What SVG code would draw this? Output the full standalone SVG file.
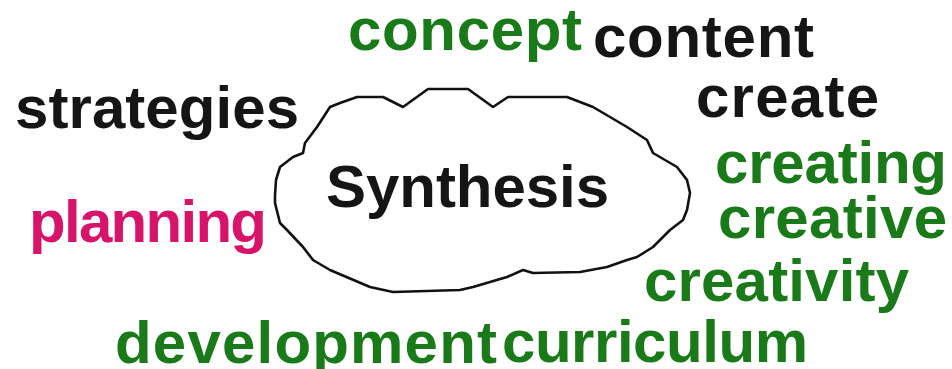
<svg xmlns="http://www.w3.org/2000/svg" width="952" height="369" viewBox="0 0 952 369">
<style>
text{font-family:"Liberation Sans",Arial,sans-serif;font-weight:bold;font-size:60px}
.g{fill:#1a7a1a}
.k{fill:#151515}
.p{fill:#d6146a}
.cloud{fill:#fff;stroke:#111;stroke-width:2.6;stroke-linejoin:round}
</style>
<rect width="952" height="369" fill="#fff"/>
<g id="cloud-synthesis">
<path class="cloud" d="M275,195 L276,180 L280,167 L293,157 L303,153 L305,143 L317,127 L330,107 L340,103 L357,97 L383,97 L403,107 L428,89 L468,89 L493,107 L508,97 L567,97 L593,107 L610,117 L627,127 L647,140 L653,153 L677,167 L687,180 L690,193 L687,210 L683,220 L670,230 L653,247 L637,257 L627,260 L607,267 L580,272 L533,273 L523,270 L507,277 L473,287 L460,290 L393,292 L370,287 L330,270 L313,260 L303,247 L287,230 L280,223 L275,203 Z"/>
<text class="k" x="326" y="207" font-size="59" textLength="283" lengthAdjust="spacing">Synthesis</text>
</g>
<g id="word-concept"><text class="g" x="348" y="50" textLength="234" lengthAdjust="spacing">concept</text></g>
<g id="word-content"><text class="k" x="593" y="57" textLength="221" lengthAdjust="spacing">content</text></g>
<g id="word-strategies"><text class="k" x="15" y="128" textLength="284" lengthAdjust="spacing">strategies</text></g>
<g id="word-create"><text class="k" x="696" y="117" textLength="183" lengthAdjust="spacing">create</text></g>
<g id="word-creating"><text class="g" x="715" y="183" textLength="232" lengthAdjust="spacing">creating</text></g>
<g id="word-creative"><text class="g" x="718" y="238" textLength="229" lengthAdjust="spacing">creative</text></g>
<g id="word-planning"><text class="p" x="29" y="242" textLength="238" lengthAdjust="spacing">planning</text></g>
<g id="word-creativity"><text class="g" x="644" y="301" textLength="265" lengthAdjust="spacing">creativity</text></g>
<g id="word-development"><text class="g" x="115" y="363" textLength="382" lengthAdjust="spacing">development</text></g>
<g id="word-curriculum"><text class="g" x="502" y="362" textLength="306" lengthAdjust="spacing">curriculum</text></g>
</svg>
